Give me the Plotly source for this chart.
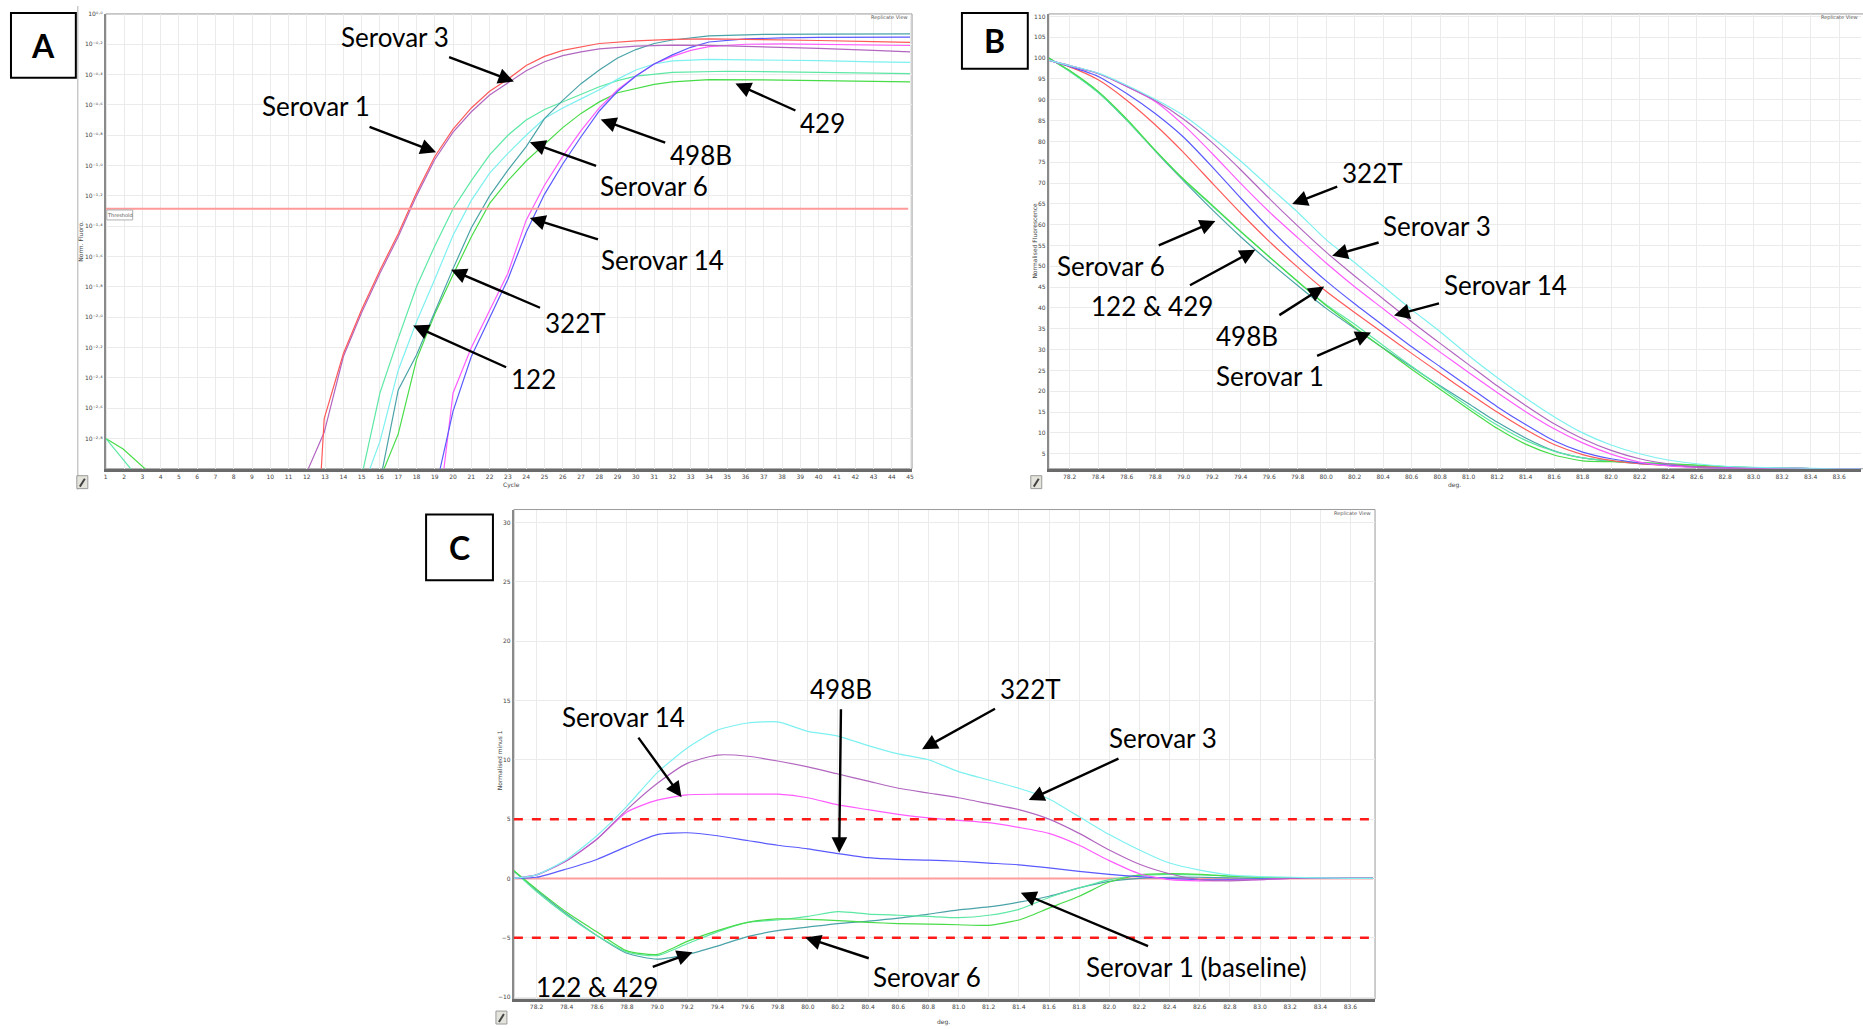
import plotly.graph_objects as go

W, H = 1863, 1029

# ---------------- Panel A: amplification curves (log10 of Norm. Fluoro.) ----------------
a_xticks = list(range(1, 46))
a_ytick_exp = [0.0, -0.2, -0.4, -0.6, -0.8, -1.0, -1.2, -1.4, -1.6, -1.8, -2.0, -2.2, -2.4, -2.6, -2.8]
a_threshold_exp = -1.285

a_s1_cyc = [12.5, 12.95, 14, 15, 16, 17, 18, 19, 20, 21, 22, 23, 24, 25, 26, 27, 28, 30, 32, 34, 37, 40, 43, 45]
a_s1_exp = [-3.6, -2.67, -2.24, -1.95, -1.69, -1.45, -1.18, -0.94, -0.76, -0.62, -0.51, -0.43, -0.34, -0.28,
            -0.24, -0.215, -0.195, -0.178, -0.168, -0.165, -0.168, -0.175, -0.182, -0.187]

a_s3_cyc = [11.9, 12.95, 14, 15, 16, 17, 18, 19, 20, 21, 22, 23, 24, 25, 26, 27, 28, 30, 32, 34, 37, 40, 43, 45]
a_s3_exp = [-3.05, -2.76, -2.26, -1.97, -1.71, -1.47, -1.2, -0.96, -0.78, -0.645, -0.535, -0.455, -0.375, -0.315,
            -0.275, -0.25, -0.23, -0.212, -0.206, -0.207, -0.215, -0.227, -0.24, -0.25]

a_322_cyc = [15.3, 16, 17, 18, 19, 20, 21, 22, 23, 24, 25, 26, 27, 28, 29, 30, 31, 32, 34, 37, 40, 43, 45]
a_322_exp = [-3.05, -2.82, -2.35, -2.03, -1.75, -1.46, -1.23, -1.05, -0.92, -0.8, -0.69, -0.62, -0.56, -0.5,
             -0.43, -0.37, -0.33, -0.31, -0.3, -0.302, -0.308, -0.316, -0.32]

a_s6_cyc = [16.06, 17, 18, 19, 20, 21, 22, 23, 24, 25, 26, 27, 28, 29, 30, 31, 32, 34, 37, 40, 45]
a_s6_exp = [-3.05, -2.48, -2.25, -1.96, -1.68, -1.41, -1.2, -1.03, -0.875, -0.69, -0.57, -0.46, -0.37, -0.29,
            -0.235, -0.195, -0.172, -0.145, -0.135, -0.133, -0.131]

a_122_cyc = [1, 2.5, 2.6, 15.0, 16, 17, 18, 19, 20, 21, 22, 23, 24, 25, 26, 27, 28, 29, 30, 32, 35, 40, 45]
a_122_exp = [-2.8, -3.02, None, -3.05, -2.5, -2.14, -1.8, -1.53, -1.285, -1.1, -0.93, -0.8, -0.7, -0.63, -0.58,
             -0.53, -0.48, -0.44, -0.41, -0.385, -0.378, -0.385, -0.394]

a_429_cyc = [1, 1.95, 3.33, 3.4, 16.06, 17, 18, 19, 20, 21, 22, 23, 24, 25, 26, 27, 28, 29, 30, 31, 32, 34, 37,
             40, 43, 45]
a_429_exp = [-2.8, -2.87, -3.02, None, -3.05, -2.77, -2.28, -1.98, -1.72, -1.47, -1.25, -1.1, -0.97, -0.86, -0.75,
             -0.656, -0.58, -0.52, -0.49, -0.465, -0.448, -0.433, -0.435, -0.44, -0.445, -0.448]

a_s14_cyc = [19.45, 20, 21, 22, 23, 24, 25, 26, 27, 28, 29, 30, 31, 32, 33, 34, 36, 38, 40, 43, 45]
a_s14_exp = [-3.05, -2.5, -2.2, -1.95, -1.71, -1.36, -1.13, -0.94, -0.77, -0.62, -0.5, -0.41, -0.33, -0.28,
             -0.24, -0.215, -0.2, -0.198, -0.2, -0.205, -0.208]

a_498_cyc = [19.2, 20, 21, 22, 23, 24, 25, 26, 27, 28, 29, 30, 31, 32, 33, 34, 36, 38, 40, 45]
a_498_exp = [-3.05, -2.62, -2.26, -2.0, -1.75, -1.44, -1.19, -0.99, -0.81, -0.64, -0.51, -0.41, -0.33, -0.27,
             -0.22, -0.185, -0.165, -0.158, -0.155, -0.153]

# ---------------- Panel B: melt curves (normalised fluorescence) ----------------
b_temps = [78.05, 78.2, 78.4, 78.6, 78.8, 79.0, 79.2, 79.4, 79.6, 79.8, 80.0, 80.2, 80.4, 80.6, 80.8, 81.0,
           81.2, 81.4, 81.6, 81.8, 82.0, 82.2, 82.4, 82.6, 82.8, 83.0, 83.2, 83.4, 83.6, 83.75]
b_xticks = [78.2, 78.4, 78.6, 78.8, 79.0, 79.2, 79.4, 79.6, 79.8, 80.0, 80.2, 80.4, 80.6, 80.8, 81.0, 81.2,
            81.4, 81.6, 81.8, 82.0, 82.2, 82.4, 82.6, 82.8, 83.0, 83.2, 83.4, 83.6]

b_s1 = [99.5, 97.9, 94.8, 89.9, 84.0, 77.3, 70.0, 62.8, 56.0, 49.8, 44.0, 38.9, 34.0, 29.1, 24.3, 19.6, 15.0,
        10.8, 7.2, 4.8, 3.4, 2.6, 2.2, 1.9, 1.7, 1.6, 1.5, 1.45, 1.4, 1.35]
b_322 = [99.5, 98.2, 96.4, 93.5, 90.1, 86.2, 81.0, 75.3, 69.1, 63.0, 56.4, 50.9, 45.2, 39.6, 34.3, 28.6, 23.3,
         18.4, 13.9, 10.0, 7.1, 5.0, 3.5, 2.6, 2.0, 1.75, 1.6, 1.5, 1.4, 1.35]
b_s3 = [99.5, 98.2, 96.3, 93.2, 89.8, 85.3, 79.7, 73.2, 66.3, 59.7, 53.4, 47.7, 42.2, 36.7, 31.5, 26.4, 21.3,
        16.6, 12.2, 8.6, 5.8, 3.8, 2.6, 1.8, 1.5, 1.5, 1.5, 1.45, 1.4, 1.35]
b_s14 = [99.5, 98.2, 96.3, 93.2, 89.6, 83.9, 77.1, 69.9, 63.1, 56.9, 50.8, 45.1, 39.8, 34.5, 29.4, 24.5, 19.7,
         15.1, 11.0, 7.6, 4.9, 3.0, 2.1, 1.7, 1.55, 1.5, 1.5, 1.45, 1.4, 1.35]
b_498 = [99.5, 98.0, 95.6, 91.5, 86.7, 81.0, 73.9, 66.4, 59.2, 52.6, 46.5, 41.0, 35.8, 30.7, 25.9, 21.1, 16.3,
         12.0, 8.1, 5.4, 3.8, 2.8, 2.2, 1.8, 1.6, 1.55, 1.5, 1.45, 1.4, 1.35]
b_429 = [100.1, 97.0, 92.0, 85.4, 77.9, 70.9, 64.7, 58.4, 52.3, 46.4, 40.6, 35.4, 30.3, 25.3, 20.5, 15.7, 11.1,
         7.3, 4.7, 3.3, 3.1, 2.9, 2.6, 2.3, 1.9, 1.7, 1.55, 1.45, 1.4, 1.35]
b_122 = [100.1, 96.8, 91.7, 85.1, 77.8, 70.8, 64.5, 58.3, 52.3, 46.3, 40.8, 36.1, 31.0, 26.0, 21.1, 16.3, 11.9,
         8.2, 5.6, 4.0, 3.3, 2.85, 2.55, 2.2, 1.9, 1.7, 1.55, 1.45, 1.4, 1.35]
b_s6 = [100.1, 96.9, 91.8, 85.1, 77.7, 70.5, 63.6, 57.1, 51.1, 45.4, 39.9, 35.1, 30.4, 25.8, 21.3, 17.0, 12.6,
        8.8, 5.7, 4.0, 3.2, 2.6, 2.3, 2.0, 1.75, 1.6, 1.5, 1.45, 1.4, 1.35]

# ---------------- Panel C: difference curves (normalised minus Serovar 1) ----------------
c_cutoffs = [5, -5]
c_s1 = [0.0, 0.0, 0.0, 0.0, 0.0, 0.0, 0.0, 0.0, 0.0, 0.0, 0.0, 0.0, 0.0, 0.0, 0.0, 0.0, 0.0, 0.0, 0.0, 0.0,
        0.0, 0.0, 0.0, 0.0, 0.0, 0.0, 0.0, 0.0, 0.0, 0.0]
c_322 = [0.0, 0.3, 1.6, 3.6, 6.1, 8.9, 11.0, 12.5, 13.1, 13.2, 12.4, 12.0, 11.2, 10.5, 10.0, 9.0, 8.3, 7.6, 6.7,
         5.2, 3.7, 2.4, 1.3, 0.7, 0.3, 0.15, 0.1, 0.05, 0.0, 0.0]
c_s3 = [0.0, 0.3, 1.5, 3.3, 5.8, 8.0, 9.7, 10.4, 10.3, 9.9, 9.4, 8.8, 8.2, 7.6, 7.2, 6.8, 6.3, 5.8, 5.0, 3.8,
        2.4, 1.2, 0.4, -0.1, -0.2, -0.1, 0.0, 0.0, 0.0, 0.0]
c_s14 = [0.0, 0.3, 1.5, 3.3, 5.6, 6.6, 7.05, 7.1, 7.1, 7.1, 6.8, 6.2, 5.8, 5.4, 5.1, 4.9, 4.7, 4.3, 3.8, 2.8,
         1.5, 0.4, -0.1, -0.2, -0.15, -0.1, 0.0, 0.0, 0.0, 0.0]
c_498 = [0.0, 0.1, 0.8, 1.6, 2.7, 3.7, 3.85, 3.6, 3.2, 2.8, 2.5, 2.1, 1.75, 1.6, 1.55, 1.45, 1.3, 1.15, 0.9,
         0.6, 0.35, 0.15, 0.0, -0.1, -0.1, -0.05, 0.0, 0.0, 0.0, 0.0]
c_429 = [0.65, -0.9, -2.85, -4.5, -6.1, -6.4, -5.3, -4.4, -3.7, -3.4, -3.45, -3.55, -3.7, -3.8, -3.85, -3.9,
         -3.95, -3.5, -2.5, -1.5, -0.3, 0.3, 0.4, 0.35, 0.2, 0.1, 0.05, 0.0, 0.0, 0.0]
c_122 = [0.65, -1.1, -3.1, -4.8, -6.2, -6.5, -5.5, -4.5, -3.7, -3.5, -3.2, -2.8, -3.0, -3.1, -3.2, -3.3, -3.1,
         -2.6, -1.6, -0.8, -0.1, 0.25, 0.35, 0.3, 0.2, 0.1, 0.05, 0.0, 0.0, 0.0]
c_s6 = [0.6, -1.0, -3.0, -4.8, -6.3, -6.8, -6.4, -5.7, -4.9, -4.4, -4.1, -3.8, -3.6, -3.35, -3.0, -2.65, -2.4,
        -2.0, -1.5, -0.8, -0.25, 0.0, 0.1, 0.1, 0.05, 0.0, 0.0, 0.0, 0.0, 0.0]

colors = {
    "Serovar 1": "#ff5a5a", "Serovar 3": "#b266c0", "322T": "#7ef0f0", "Serovar 6": "#4aa3a8",
    "122": "#5ce8a4", "429": "#48dc48", "Serovar 14": "#ff5cff", "498B": "#5a5aff",
}

SUP = {"0": "\u2070", "1": "\u00b9", "2": "\u00b2", "3": "\u00b3", "4": "\u2074", "5": "\u2075",
       "6": "\u2076", "7": "\u2077", "8": "\u2078", "9": "\u2079", "-": "\u207b", ".": "\u00b7"}


def pow_label(e):
    return "10" + "".join(SUP[c] for c in "%.1f" % e)


fig = go.Figure()

# ---- panel A traces
a_sets = [("429", a_429_cyc, a_429_exp), ("122", a_122_cyc, a_122_exp), ("322T", a_322_cyc, a_322_exp),
          ("Serovar 6", a_s6_cyc, a_s6_exp), ("Serovar 14", a_s14_cyc, a_s14_exp), ("498B", a_498_cyc, a_498_exp),
          ("Serovar 3", a_s3_cyc, a_s3_exp), ("Serovar 1", a_s1_cyc, a_s1_exp)]
for name, cyc, ex in a_sets:
    fig.add_trace(go.Scatter(x=cyc, y=[None if e is None else 10 ** e for e in ex], mode="lines", name=name,
                             line=dict(color=colors[name], width=1.2), xaxis="x", yaxis="y",
                             connectgaps=False, showlegend=False))

# ---- panel B traces
b_sets = [("Serovar 6", b_s6), ("122", b_122), ("429", b_429), ("Serovar 1", b_s1), ("498B", b_498),
          ("Serovar 14", b_s14), ("Serovar 3", b_s3), ("322T", b_322)]
for name, vals in b_sets:
    fig.add_trace(go.Scatter(x=b_temps, y=vals, mode="lines", name=name,
                             line=dict(color=colors[name], width=1.2, shape="spline", smoothing=0.6),
                             xaxis="x2", yaxis="y2", showlegend=False))

# ---- panel C traces
c_sets = [("Serovar 1", c_s1), ("Serovar 6", c_s6), ("122", c_122), ("429", c_429), ("498B", c_498),
          ("Serovar 14", c_s14), ("Serovar 3", c_s3), ("322T", c_322)]
for name, vals in c_sets:
    col = "#ff9c9c" if name == "Serovar 1" else colors[name]
    wid = 2 if name == "Serovar 1" else 1.2
    fig.add_trace(go.Scatter(x=b_temps, y=vals, mode="lines", name=name,
                             line=dict(color=col, width=wid, shape="spline", smoothing=0.6),
                             xaxis="x3", yaxis="y3", showlegend=False))

tickfont = dict(family="DejaVu Sans, Liberation Sans, sans-serif", size=6, color="#444444")


def xax(domain, rng, tickvals, anchor, ticktext=None):
    d = dict(domain=domain, range=rng, tickvals=tickvals, anchor=anchor, showgrid=True, gridcolor="#ebebeb",
             gridwidth=1, zeroline=False, showline=True, linecolor="#6a6a6a", linewidth=3, ticks="",
             tickfont=tickfont, fixedrange=True)
    if ticktext is not None:
        d["ticktext"] = ticktext
    return d


def yax(domain, rng, anchor, **kw):
    d = dict(domain=domain, range=rng, anchor=anchor, showgrid=True, gridcolor="#ebebeb", gridwidth=1,
             zeroline=False, showline=True, linecolor="#8a8a8a", linewidth=2, ticks="", tickfont=tickfont,
             fixedrange=True)
    d.update(kw)
    return d


A_dom_x = [104 / W, 912 / W]
B_dom_x = [1049 / W, 1.0]
AB_dom_y = [1 - 467 / H, 1 - 10 / H]
C_dom_x = [513 / W, 1376 / W]
C_dom_y = [1 - 1000 / H, 1 - 508 / H]

fig.update_layout(
    width=W, height=H, margin=dict(l=0, r=0, t=0, b=0), autosize=False,
    paper_bgcolor="white", plot_bgcolor="white", showlegend=False,
    xaxis=xax(A_dom_x, [1, 45.11], a_xticks, "y"),
    yaxis=yax(AB_dom_y, [-3, 0], "x", type="log", tickvals=[10 ** e for e in a_ytick_exp],
              ticktext=[pow_label(e) for e in a_ytick_exp]),
    xaxis2=xax(B_dom_x, [78.053, 83.754], b_xticks, "y2", ["%.1f" % v for v in b_xticks]),
    yaxis2=yax(AB_dom_y, [1.4, 110.6], "x2", tick0=0, dtick=5),
    xaxis3=xax(C_dom_x, [78.05, 83.763], b_xticks, "y3", ["%.1f" % v for v in b_xticks]),
    yaxis3=yax(C_dom_y, [-10.17, 31.09], "x3", tick0=0, dtick=5),
)


def px(x):
    return x / W


def py(y):
    return 1 - y / H


shapes = []
for (x0, y0, x1, y1) in [(104, 10, 912, 467), (1049, 10, 1870, 467), (513, 508, 1376, 1000)]:
    shapes.append(dict(type="rect", xref="paper", yref="paper", x0=px(x0), x1=px(x1), y0=py(y1), y1=py(y0),
                       line=dict(color="#9a9a9a", width=1), layer="below"))
shapes.append(dict(type="line", xref="paper", yref="paper", x0=px(76), x1=px(76), y0=py(488), y1=py(2),
                   line=dict(color="#b0b0b0", width=1)))
shapes.append(dict(type="line", xref="x", yref="y", x0=1, x1=44.9, y0=10 ** a_threshold_exp,
                   y1=10 ** a_threshold_exp, line=dict(color="#ff9a9a", width=2)))
for v in c_cutoffs:
    shapes.append(dict(type="line", xref="x3 domain", yref="y3", x0=0, x1=1, y0=v, y1=v,
                       line=dict(color="#ff1a1a", width=2.5, dash="dash")))
for (x0, y0, x1, y1) in [(9, 9, 74, 74), (962, 9, 1028, 65), (425, 513, 492, 579)]:
    shapes.append(dict(type="rect", xref="paper", yref="paper", x0=px(x0), x1=px(x1), y0=py(y1), y1=py(y0),
                       line=dict(color="black", width=2), fillcolor="white"))
shapes.append(dict(type="rect", xref="paper", yref="paper", x0=px(105), x1=px(131), y0=py(217), y1=py(207),
                   line=dict(color="#b0b0b0", width=1), fillcolor="white"))
for (x0, y0) in [(75, 474), (1031, 474), (495, 1012)]:
    shapes.append(dict(type="rect", xref="paper", yref="paper", x0=px(x0), x1=px(x0 + 11), y0=py(y0 + 13),
                       y1=py(y0), line=dict(color="#9a9a9a", width=1), fillcolor="#e4e4dc"))
    shapes.append(dict(type="line", xref="paper", yref="paper", x0=px(x0 + 3), x1=px(x0 + 8), y0=py(y0 + 11),
                       y1=py(y0 + 3), line=dict(color="#444444", width=2)))
fig.update_layout(shapes=shapes)

ann = []
small = dict(family="DejaVu Sans, Liberation Sans, sans-serif", size=6, color="#444444")
tiny = dict(family="DejaVu Sans, Liberation Sans, sans-serif", size=5, color="#555555")


def label(text, x, y, font, angle=0, xanchor="center"):
    ann.append(dict(text=text, x=px(x), y=py(y), xref="paper", yref="paper", showarrow=False, font=font,
                    textangle=angle, xanchor=xanchor, yanchor="middle"))


label("Cycle", 511, 483, small)
label("deg.", 1456, 483, small)
label("deg.", 944, 1023, small)
label("Norm. Fluoro.", 79, 238, small, angle=-90)
label("Normalised Fluorescence", 1035, 238, small, angle=-90)
label("Normalised minus 1", 498, 760, small, angle=-90)
label("Replicate View", 910, 14, tiny, xanchor="right")
label("Replicate View", 1862, 14, tiny, xanchor="right")
label("Replicate View", 1374, 512, tiny, xanchor="right")
label("Threshold", 118, 212, tiny)

bigfont = dict(family="Lato, Open Sans, sans-serif", size=32, color="black")
label("<b>A</b>", 41.5, 42, bigfont)
label("<b>B</b>", 995, 37, bigfont)
label("<b>C</b>", 458.5, 546, bigfont)

afont = dict(family="Lato, Open Sans, sans-serif", size=26, color="black")
arrows = [
    ("Serovar 3", (513, 78), (394, 33)),
    ("Serovar 1", (435, 149), (315, 103)),
    ("429", (735, 80), (822, 119)),
    ("498B", (600, 116), (700, 152)),
    ("Serovar 6", (529, 139), (653, 183)),
    ("Serovar 14", (529, 215), (662, 257)),
    ("322T", (450, 267), (574, 320)),
    ("122", (412, 323), (532, 377)),
    ("322T", (1293, 201), (1373, 170)),
    ("Serovar 3", (1333, 253), (1438, 223)),
    ("Serovar 14", (1395, 313), (1506, 283)),
    ("Serovar 6", (1216, 218), (1112, 263)),
    ("122 &amp; 429", (1256, 247), (1153, 303)),
    ("498B", (1325, 284), (1248, 333)),
    ("Serovar 1", (1372, 330), (1271, 374)),
    ("Serovar 14", (681, 797), (623, 717)),
    ("498B", (839, 853), (841, 689)),
    ("322T", (922, 749), (1030, 689)),
    ("Serovar 3", (1029, 800), (1163, 738)),
    ("Serovar 1 (baseline)", (1021, 893), (1197, 967)),
    ("Serovar 6", (805, 938), (927, 978)),
    ("122 &amp; 429", (692, 953), (596, 988)),
]
for text, tip, ctr in arrows:
    ann.append(dict(text=text, x=px(tip[0]), y=py(tip[1]), xref="paper", yref="paper", showarrow=True,
                    ax=ctr[0] - tip[0], ay=ctr[1] - tip[1], axref="pixel", ayref="pixel",
                    arrowhead=2, arrowsize=1.3, arrowwidth=2.4, arrowcolor="black", font=afont,
                    borderpad=4, standoff=0))
fig.update_layout(annotations=ann)

fig.write_html("out.html")
